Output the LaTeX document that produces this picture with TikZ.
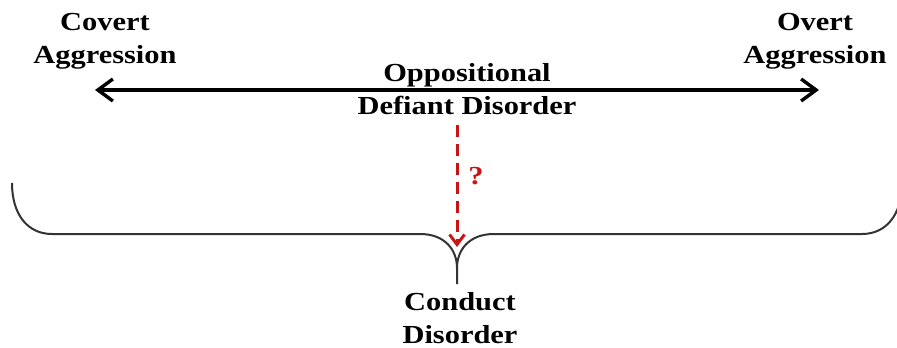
\documentclass[tikz,border=0pt]{standalone}
\usepackage{fontspec}
\setmainfont[FakeStretch=1.17]{Liberation Serif}
\usetikzlibrary{arrows.meta}
\definecolor{qred}{RGB}{200,20,20}
\begin{document}
\begin{tikzpicture}
    [x=1pt,y=-1pt,every node/.style={font=\fontsize{26}{33}\selectfont\bfseries, align = center, inner sep = 0pt}]
    \clip (0,0) rectangle (897,348);
    \node (cov) at (105,41) {Covert \\ Aggression};
    \node (ovt) at (815,41) {Overt \\ Aggression};
    \node (odd) at (467,89) {Oppositional \\ Defiant Disorder};
    \node (cd) at (460,318) {Conduct \\ Disorder};
    \node[text=qred] (q) at (476,176) {?};

    \coordinate (covl) at (95,90);
    \coordinate (ovtr) at (819,90);
    \coordinate (top) at (457,125);
    \coordinate (tip) at (457,247);

    \draw[line width=3.4pt, {Straight Barb[length=15pt,width=22pt]}-{Straight Barb[length=15pt,width=22pt]}] (covl) -- (ovtr);
    \draw[qred, line width=3pt, dash pattern=on 12pt off 7pt, -{Straight Barb[length=10pt,width=15pt]}] (top) -- (tip);

    % brace
    \draw[line width=2pt, black!80] (12,183) .. controls (12,215) and (28,234) .. (52,234)
      -- (420,234) .. controls (445,234) and (457,250) .. (457,268) -- (457,284)
      (457,268) .. controls (457,250) and (469,234) .. (494,234)
      -- (862,234) .. controls (886,234) and (902,215) .. (902,183);
\end{tikzpicture}
\end{document}
